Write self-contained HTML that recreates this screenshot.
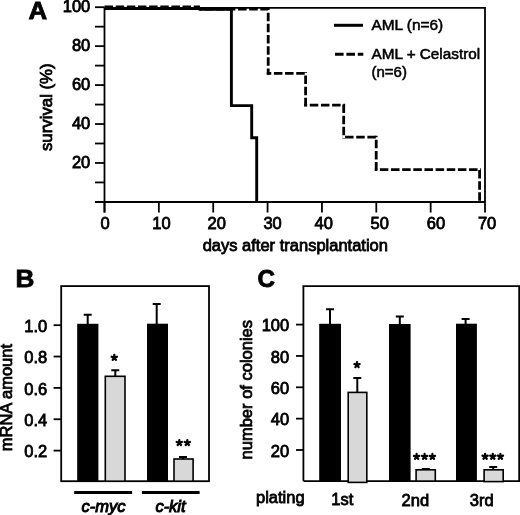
<!DOCTYPE html><html><head><meta charset="utf-8"><style>html,body{margin:0;padding:0;background:#fff;}svg{display:block;filter:grayscale(1) blur(0.35px);}text{font-family:"Liberation Sans",sans-serif;fill:#000;stroke:#000;stroke-width:0.8px;}</style></head><body>
<svg width="520" height="515" viewBox="0 0 520 515">
<rect width="520" height="515" fill="#fff"/>
<text transform="translate(28.4,18.6) scale(1.05,1)" font-size="24.6" font-weight="bold">A</text>
<g stroke="#000" stroke-width="1.8" fill="none">
<path d="M104.5,7.9 H485 V202 M104.5,7.9 V212.5 M95,202 H485"/>
<path d="M95,201.90 H104.5"/>
<path d="M95,182.43 H104.5"/>
<path d="M95,162.96 H104.5"/>
<path d="M95,143.49 H104.5"/>
<path d="M95,124.02 H104.5"/>
<path d="M95,104.55 H104.5"/>
<path d="M95,85.08 H104.5"/>
<path d="M95,65.61 H104.5"/>
<path d="M95,46.14 H104.5"/>
<path d="M95,26.67 H104.5"/>
<path d="M95,7.20 H104.5"/>
<path d="M104.50,202 V212.5"/>
<path d="M158.86,202 V212.5"/>
<path d="M213.22,202 V212.5"/>
<path d="M267.58,202 V212.5"/>
<path d="M321.94,202 V212.5"/>
<path d="M376.30,202 V212.5"/>
<path d="M430.66,202 V212.5"/>
<path d="M485.02,202 V212.5"/>
</g>
<text x="90.3" y="168.11" font-size="16.5" text-anchor="end">20</text>
<text x="90.3" y="129.17" font-size="16.5" text-anchor="end">40</text>
<text x="90.3" y="90.23" font-size="16.5" text-anchor="end">60</text>
<text x="90.3" y="51.29" font-size="16.5" text-anchor="end">80</text>
<text x="90.3" y="12.35" font-size="16.5" text-anchor="end">100</text>
<text x="105.05" y="229" font-size="16.5" text-anchor="middle">0</text>
<text x="161.50" y="229" font-size="16.5" text-anchor="middle">10</text>
<text x="216.70" y="229" font-size="16.5" text-anchor="middle">20</text>
<text x="272.60" y="229" font-size="16.5" text-anchor="middle">30</text>
<text x="323.70" y="229" font-size="16.5" text-anchor="middle">40</text>
<text x="379.70" y="229" font-size="16.5" text-anchor="middle">50</text>
<text x="435.90" y="229" font-size="16.5" text-anchor="middle">60</text>
<text x="487.10" y="229" font-size="16.5" text-anchor="middle">70</text>
<text x="295.3" y="251" font-size="16.5" text-anchor="middle">days after transplantation</text>
<text transform="translate(51.6,107.2) rotate(-90)" x="0" y="0" font-size="16.8" text-anchor="middle">survival (%)</text>
<path d="M104.5,8.6 H200 V9.3 H231.4 V105.6 H251.7 V137.7 H256.7 V202" stroke="#000" stroke-width="2.9" fill="none" stroke-linejoin="miter"/>
<path d="M104.50,7.00 L200.00,7.00" stroke="#000" stroke-width="2.8" stroke-dasharray="8.5 2.65" stroke-dashoffset="11.13" fill="none"/>
<path d="M200.00,9.20 L268.20,9.20" stroke="#000" stroke-width="2.8" stroke-dasharray="8.5 2.65" stroke-dashoffset="6.54" fill="none"/>
<path d="M268.20,7.80 L268.20,74.80" stroke="#000" stroke-width="2.8" stroke-dasharray="8.5 2.65" stroke-dashoffset="6.25" fill="none"/>
<path d="M266.80,73.40 L307.00,73.40" stroke="#000" stroke-width="2.8" stroke-dasharray="8.5 2.65" stroke-dashoffset="4.03" fill="none"/>
<path d="M305.60,72.00 L305.60,106.60" stroke="#000" stroke-width="2.8" stroke-dasharray="8.5 2.65" stroke-dashoffset="7.67" fill="none"/>
<path d="M304.20,105.20 L345.10,105.20" stroke="#000" stroke-width="2.8" stroke-dasharray="8.5 2.65" stroke-dashoffset="5.55" fill="none"/>
<path d="M343.70,103.80 L343.70,138.60" stroke="#000" stroke-width="2.8" stroke-dasharray="8.5 2.65" stroke-dashoffset="10.40" fill="none"/>
<path d="M342.30,137.20 L377.60,137.20" stroke="#000" stroke-width="2.8" stroke-dasharray="8.5 2.65" stroke-dashoffset="8.38" fill="none"/>
<path d="M376.20,135.80 L376.20,171.10" stroke="#000" stroke-width="2.8" stroke-dasharray="8.5 2.65" stroke-dashoffset="7.15" fill="none"/>
<path d="M374.80,169.70 L481.00,169.70" stroke="#000" stroke-width="2.8" stroke-dasharray="8.5 2.65" stroke-dashoffset="6.09" fill="none"/>
<path d="M479.60,169.70 L479.60,202.00" stroke="#000" stroke-width="2.8" stroke-dasharray="8.5 2.65" stroke-dashoffset="10.80" fill="none"/>
<path d="M334,25.3 H363" stroke="#000" stroke-width="3"/>
<path d="M335,54.2 H363.3" stroke="#000" stroke-width="3.1" stroke-dasharray="8.6 2.8"/>
<text x="371.5" y="29.8" font-size="15.4" style="stroke-width:0.55px">AML (n=6)</text>
<text x="371.5" y="59.0" font-size="15.3" style="stroke-width:0.55px">AML + Celastrol</text>
<text x="371.5" y="77" font-size="15" style="stroke-width:0.55px">(n=6)</text>
<text transform="translate(15.6,286.6) scale(1.1,1)" font-size="23.8" font-weight="bold">B</text>
<g stroke="#000" stroke-width="1.8" fill="none">
<rect x="61.2" y="286.1" width="147.8" height="195.1"/>
<path d="M53.6,325.20 H61.2"/>
<path d="M53.6,356.55 H61.2"/>
<path d="M53.6,387.90 H61.2"/>
<path d="M53.6,419.25 H61.2"/>
<path d="M53.6,450.60 H61.2"/>
</g>
<text x="47.3" y="331.80" font-size="16.5" text-anchor="end">1.0</text>
<text x="47.3" y="363.15" font-size="16.5" text-anchor="end">0.8</text>
<text x="47.3" y="394.50" font-size="16.5" text-anchor="end">0.6</text>
<text x="47.3" y="425.85" font-size="16.5" text-anchor="end">0.4</text>
<text x="47.3" y="457.20" font-size="16.5" text-anchor="end">0.2</text>
<text transform="translate(11.8,397.6) rotate(-90)" font-size="16.5" text-anchor="middle">mRNA amount</text>
<path d="M87.7,324 V314.7 M83.7,314.7 H91.7" stroke="#000" stroke-width="2" fill="none"/>
<rect x="77.2" y="323.8" width="21.200000000000003" height="157.39999999999998" fill="#000"/>
<path d="M115.3,376 V370.3 M111.3,370.3 H119.3" stroke="#000" stroke-width="2" fill="none"/>
<rect x="105.3" y="376.3" width="19.699999999999996" height="104.89999999999999" fill="#d8d8d8" stroke="#000" stroke-width="1.6"/>
<path d="M156.7,324 V303.9 M152.7,303.9 H160.7" stroke="#000" stroke-width="2" fill="none"/>
<rect x="147" y="323.7" width="21" height="157.5" fill="#000"/>
<path d="M183,459 V457 M179.0,457 H187.0" stroke="#000" stroke-width="2" fill="none"/>
<rect x="174.0" y="459.0" width="19.100000000000016" height="22.2" fill="#d8d8d8" stroke="#000" stroke-width="1.6"/>
<path d="M114.30,357.60 L114.30,354.85 M114.30,357.60 L116.92,356.75 M114.30,357.60 L115.92,359.82 M114.30,357.60 L112.68,359.82 M114.30,357.60 L111.68,356.75 " stroke="#000" stroke-width="2.25" fill="none" stroke-linecap="round"/>
<path d="M179.30,442.80 L179.30,440.05 M179.30,442.80 L181.92,441.95 M179.30,442.80 L180.92,445.02 M179.30,442.80 L177.68,445.02 M179.30,442.80 L176.68,441.95 " stroke="#000" stroke-width="2.25" fill="none" stroke-linecap="round"/>
<path d="M187.30,442.80 L187.30,440.05 M187.30,442.80 L189.92,441.95 M187.30,442.80 L188.92,445.02 M187.30,442.80 L185.68,445.02 M187.30,442.80 L184.68,441.95 " stroke="#000" stroke-width="2.25" fill="none" stroke-linecap="round"/>
<path d="M74.2,492.6 H132.1 M141.9,492.4 H199.6" stroke="#000" stroke-width="3"/>
<text x="103.5" y="511.5" font-size="16.5" font-style="italic" text-anchor="middle" style="stroke-width:1px">c-myc</text>
<text x="170.5" y="512" font-size="16.5" font-style="italic" text-anchor="middle" style="stroke-width:1px">c-kit</text>
<text transform="translate(257.4,286.9) scale(1.0,1)" font-size="24.2" font-weight="bold">C</text>
<g stroke="#000" stroke-width="1.8" fill="none">
<path d="M303.4,481.1 V286.1 H519.2 V481.1 H303.4"/>
<path d="M296,324.60 H303.4"/>
<path d="M296,355.95 H303.4"/>
<path d="M296,387.30 H303.4"/>
<path d="M296,418.65 H303.4"/>
<path d="M296,450.00 H303.4"/>
</g>
<text x="289.2" y="331.30" font-size="16.5" text-anchor="end">100</text>
<text x="289.2" y="362.65" font-size="16.5" text-anchor="end">80</text>
<text x="289.2" y="394.00" font-size="16.5" text-anchor="end">60</text>
<text x="289.2" y="425.35" font-size="16.5" text-anchor="end">40</text>
<text x="289.2" y="456.70" font-size="16.5" text-anchor="end">20</text>
<text transform="translate(252.3,389.7) rotate(-90)" font-size="16.5" text-anchor="middle">number of colonies</text>
<path d="M330,324 V309.2 M326.0,309.2 H334.0" stroke="#000" stroke-width="2" fill="none"/>
<rect x="319.2" y="323.8" width="21.80000000000001" height="157.3" fill="#000"/>
<path d="M357.3,392 V378 M353.3,378 H361.3" stroke="#000" stroke-width="2" fill="none"/>
<rect x="348.2" y="392.40000000000003" width="18.600000000000044" height="89.99999999999996" fill="#d8d8d8" stroke="#000" stroke-width="1.6"/>
<path d="M399.8,324 V316.5 M395.8,316.5 H403.8" stroke="#000" stroke-width="2" fill="none"/>
<rect x="389" y="324" width="21.600000000000023" height="157.10000000000002" fill="#000"/>
<path d="M425.8,470 V469.0 M421.8,469.0 H429.8" stroke="#000" stroke-width="2" fill="none"/>
<rect x="416.1" y="469.8" width="19.20000000000001" height="11.300000000000022" fill="#d8d8d8" stroke="#000" stroke-width="1.6"/>
<path d="M465.6,324 V319 M461.6,319 H469.6" stroke="#000" stroke-width="2" fill="none"/>
<rect x="456" y="323.7" width="20.899999999999977" height="157.40000000000003" fill="#000"/>
<path d="M493.2,470 V467 M489.2,467 H497.2" stroke="#000" stroke-width="2" fill="none"/>
<rect x="484.1" y="469.8" width="19.099999999999987" height="11.800000000000022" fill="#d8d8d8" stroke="#000" stroke-width="1.6"/>
<path d="M357.00,364.90 L357.00,362.15 M357.00,364.90 L359.62,364.05 M357.00,364.90 L358.62,367.12 M357.00,364.90 L355.38,367.12 M357.00,364.90 L354.38,364.05 " stroke="#000" stroke-width="2.25" fill="none" stroke-linecap="round"/>
<path d="M416.60,456.70 L416.60,453.95 M416.60,456.70 L419.22,455.85 M416.60,456.70 L418.22,458.92 M416.60,456.70 L414.98,458.92 M416.60,456.70 L413.98,455.85 " stroke="#000" stroke-width="2.25" fill="none" stroke-linecap="round"/>
<path d="M424.60,456.70 L424.60,453.95 M424.60,456.70 L427.22,455.85 M424.60,456.70 L426.22,458.92 M424.60,456.70 L422.98,458.92 M424.60,456.70 L421.98,455.85 " stroke="#000" stroke-width="2.25" fill="none" stroke-linecap="round"/>
<path d="M432.40,456.70 L432.40,453.95 M432.40,456.70 L435.02,455.85 M432.40,456.70 L434.02,458.92 M432.40,456.70 L430.78,458.92 M432.40,456.70 L429.78,455.85 " stroke="#000" stroke-width="2.25" fill="none" stroke-linecap="round"/>
<path d="M485.10,456.50 L485.10,453.75 M485.10,456.50 L487.72,455.65 M485.10,456.50 L486.72,458.72 M485.10,456.50 L483.48,458.72 M485.10,456.50 L482.48,455.65 " stroke="#000" stroke-width="2.25" fill="none" stroke-linecap="round"/>
<path d="M492.80,456.50 L492.80,453.75 M492.80,456.50 L495.42,455.65 M492.80,456.50 L494.42,458.72 M492.80,456.50 L491.18,458.72 M492.80,456.50 L490.18,455.65 " stroke="#000" stroke-width="2.25" fill="none" stroke-linecap="round"/>
<path d="M500.40,456.50 L500.40,453.75 M500.40,456.50 L503.02,455.65 M500.40,456.50 L502.02,458.72 M500.40,456.50 L498.78,458.72 M500.40,456.50 L497.78,455.65 " stroke="#000" stroke-width="2.25" fill="none" stroke-linecap="round"/>
<text x="256" y="502.7" font-size="16.5">plating</text>
<text x="342.3" y="504.7" font-size="16.5" text-anchor="middle">1st</text>
<text x="415.3" y="505.5" font-size="16.5" text-anchor="middle">2nd</text>
<text x="481.7" y="505.5" font-size="16.5" text-anchor="middle">3rd</text>
</svg></body></html>
